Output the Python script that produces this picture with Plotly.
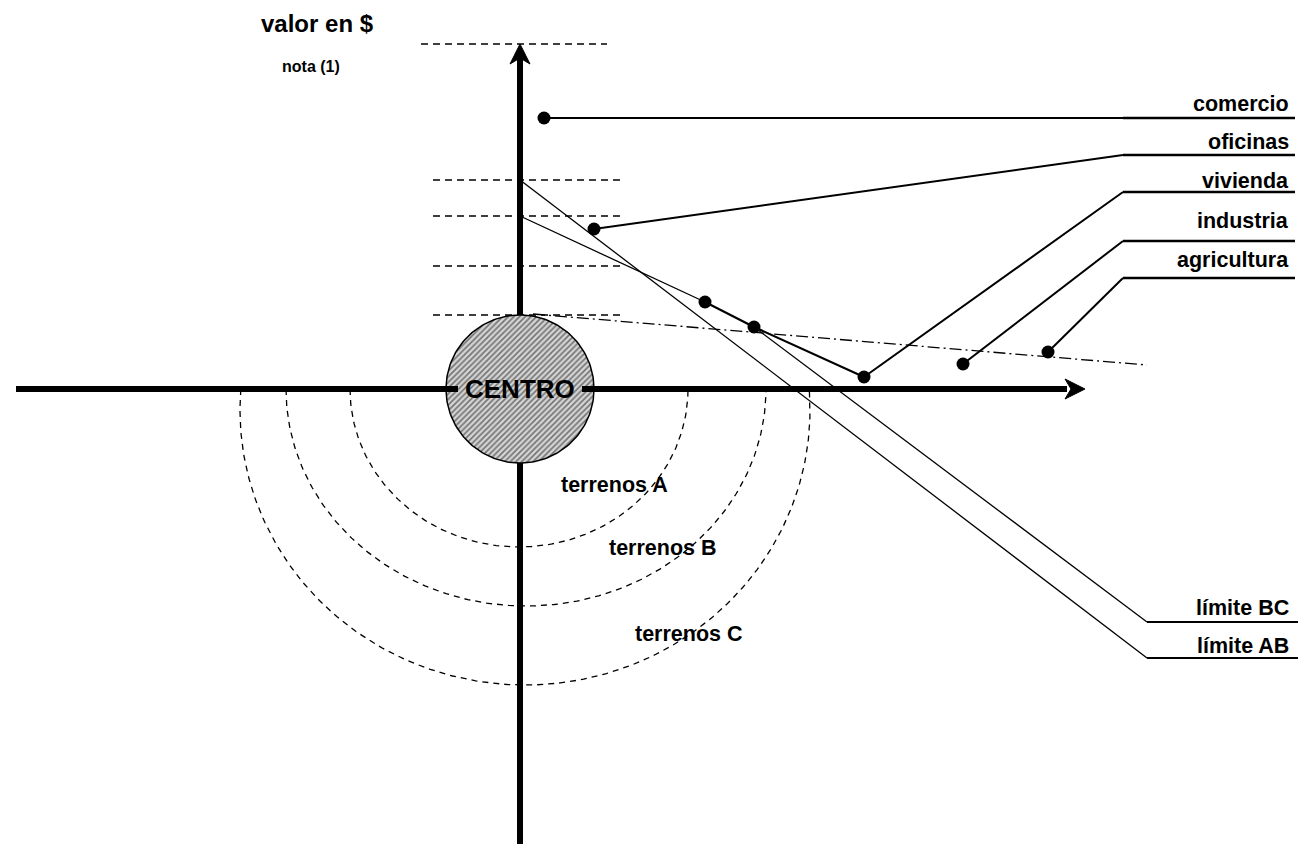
"""
Bid-rent diagram: land value vs. distance from the centre (Plotly).
"""

import numpy as np
import plotly.graph_objects as go

# Diagram units: 1 unit = 1 px, origin at CENTRO, x = distance, y = value (up)
# (ranges offset by the 8 px page margin so the origin lands at 520, 389)
X_RANGE = [-512, 794]
Y_RANGE = [-463, 381]

# Value levels marked with dashed guides on the vertical axis
guide_values = [345, 209, 173, 123, 74]

# Land uses: dot on each bid-rent level (distance, value)
use_names = ["comercio", "oficinas", "vivienda", "industria", "agricultura"]
use_distance = [24, 74, 344, 443, 528]
use_value = [271, 160, 12, 25, 37]
use_row_value = [271, 234, 197, 148, 111]   # height of each label underline
use_label_value = [285, 247, 208, 168, 129]

# Rent gradient through the intermediate dots
gradient_distance = [0, 185, 234, 344]
gradient_value = [173, 87, 62, 12]

# Zone boundaries
limit_names = ["límite BC", "límite AB"]
limit_start_distance = [234, 0]
limit_start_value = [62, 209]
limit_end_value = [-233, -269]
limit_label_value = [-219, -257]

# Agricultural rent line (dash-dot)
agri_distance = [13, 627]
agri_value = [75, 24]

# Zones of land around the centre
zone_names = ["terrenos A", "terrenos B", "terrenos C"]
zone_center_x = [-1, 6, 5]
zone_center_y = [0, 0, -21]
zone_rx = [169, 240, 285]
zone_ry = [158, 217, 275]
zone_label_x = [94, 143, 169]
zone_label_y = [-96, -159, -245]

CENTRE_RADIUS = 74
LEADER_X = 603
UNDERLINE_END = 775
LIMIT_X = 627
LIMIT_END = 785
LABEL_RIGHT = 771

FONT = "Liberation Sans, Arial, sans-serif"
LABEL_SIZE = 21.5


def line(fig, x, y, width=1.3, dash="solid"):
    fig.add_trace(
        go.Scatter(
            x=x, y=y, mode="lines",
            line=dict(color="black", width=width, dash=dash),
            hoverinfo="skip", showlegend=False,
        )
    )


fig = go.Figure()

# vertical axis (the centre disc covers its middle)
line(fig, [0, 0], [Y_RANGE[0], 331], width=6)

# dashed value guides
for i, v in enumerate(guide_values):
    x0, x1 = (-99, 87) if i == 0 else (-87, 100)
    line(fig, [x0, x1], [v, v], dash="7px,5px")

# zone arcs below the distance axis
for cx, cy, rx, ry in zip(zone_center_x, zone_center_y, zone_rx, zone_ry):
    t0 = np.arcsin(cy / ry)
    t = np.linspace(t0, np.pi - t0, 200)
    line(fig, cx - rx * np.cos(t), cy - ry * np.sin(t), dash="6px,5px")

# zone boundaries
for d0, v0, v1 in zip(limit_start_distance, limit_start_value, limit_end_value):
    line(fig, [d0, LIMIT_X], [v0, v1])
    line(fig, [LIMIT_X, LIMIT_END], [v1, v1], width=2.2)

# agricultural rent line
line(fig, agri_distance, agri_value, dash="12px,4px,2px,4px")

# rent gradient
line(fig, gradient_distance[:2], gradient_value[:2])
line(fig, gradient_distance[1:], gradient_value[1:], width=2.2)

# leaders from each dot to its label
for d, v, row in zip(use_distance, use_value, use_row_value):
    line(fig, [d, LEADER_X], [v, row], width=2)
    line(fig, [LEADER_X, UNDERLINE_END], [row, row], width=2.5)

# dots
fig.add_trace(
    go.Scatter(
        x=use_distance + gradient_distance[1:3],
        y=use_value + gradient_value[1:3],
        mode="markers",
        marker=dict(color="black", size=13),
        hoverinfo="skip", showlegend=False,
    )
)

# centre disc (hatched)
a = np.linspace(0, 2 * np.pi, 180)
fig.add_trace(
    go.Scatter(
        x=CENTRE_RADIUS * np.cos(a), y=CENTRE_RADIUS * np.sin(a),
        mode="lines", fill="toself",
        fillcolor="#c8c8c8",
        fillpattern=dict(shape="/", fgcolor="#101010", bgcolor="#d4d4d4",
                         size=4, solidity=0.4),
        line=dict(color="black", width=1.5),
        hoverinfo="skip", showlegend=False,
    )
)

# distance axis, broken around the CENTRO label
line(fig, [-504, -62], [0, 0], width=6)
line(fig, [62, 547], [0, 0], width=6)

# arrow heads
shapes = [
    dict(type="path", path="M 565,0 L 545,10 L 551,0 L 545,-10 Z",
         fillcolor="black", line=dict(color="black", width=1)),
    dict(type="path", path="M 0,345 L -10,325 L 0,331 L 10,325 Z",
         fillcolor="black", line=dict(color="black", width=1)),
]

annotations = []


def text(x, y, s, size, xanchor="center"):
    annotations.append(
        dict(x=x, y=y, text=s, showarrow=False, xanchor=xanchor, yanchor="middle",
             font=dict(family=FONT, size=size, color="black", weight="bold"))
    )


text(0, 0, "CENTRO", 26)
text(-203, 366, "valor en $", 24)
text(-209, 323, "nota (1)", 16)
for name, y in zip(use_names, use_label_value):
    text(LABEL_RIGHT, y, name, LABEL_SIZE, xanchor="right")
for name, y in zip(limit_names, limit_label_value):
    text(LABEL_RIGHT, y, name, LABEL_SIZE, xanchor="right")
for name, x, y in zip(zone_names, zone_label_x, zone_label_y):
    text(x, y, name, LABEL_SIZE)

fig.update_layout(
    width=1306, height=844,
    margin=dict(l=0, r=0, t=0, b=0),
    paper_bgcolor="white", plot_bgcolor="white",
    xaxis=dict(range=X_RANGE, visible=False, fixedrange=True),
    yaxis=dict(range=Y_RANGE, visible=False, fixedrange=True),
    shapes=shapes, annotations=annotations,
    showlegend=False,
)

fig.write_html("out.html")
